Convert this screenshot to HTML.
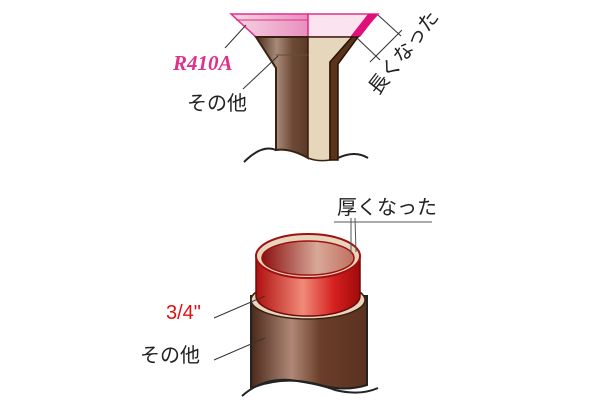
<!DOCTYPE html>
<html><head><meta charset="utf-8"><style>
body{margin:0;background:#fff;width:600px;height:400px;overflow:hidden}
text{font-family:"Liberation Sans","Noto Sans CJK JP",sans-serif}
</style></head><body>
<svg width="600" height="400" viewBox="0 0 600 400" xmlns="http://www.w3.org/2000/svg">
<defs>
<linearGradient id="br" x1="0" x2="1"><stop offset="0" stop-color="#4a2c1c"/><stop offset="0.4" stop-color="#a88a78"/><stop offset="0.7" stop-color="#6e4a36"/><stop offset="1" stop-color="#5a3a28"/></linearGradient>
<linearGradient id="pk" x1="0" x2="1"><stop offset="0" stop-color="#f6d6e6"/><stop offset="1" stop-color="#e890bd"/></linearGradient>
<linearGradient id="red" x1="0" x2="1"><stop offset="0" stop-color="#b01010"/><stop offset="0.45" stop-color="#f08a78"/><stop offset="0.75" stop-color="#d62020"/><stop offset="1" stop-color="#a00a0a"/></linearGradient>
<linearGradient id="inr" x1="0" x2="1"><stop offset="0" stop-color="#8a1010"/><stop offset="0.6" stop-color="#d8a898"/><stop offset="1" stop-color="#c07060"/></linearGradient>
<linearGradient id="ob" x1="0" x2="1"><stop offset="0" stop-color="#4a2818"/><stop offset="0.35" stop-color="#b08878"/><stop offset="0.6" stop-color="#6a3e28"/><stop offset="1" stop-color="#5a3220"/></linearGradient>
</defs>
<!-- top figure -->
<polygon points="231,14 308,14 308,37 256,37" fill="url(#pk)" stroke="#e0308a" stroke-width="1.5"/>
<polygon points="308,14 378,14 357,37 308,37" fill="#fbe4ef" stroke="#e0308a" stroke-width="1.5"/>
<polygon points="368,14 378,14 360,37 350,37" fill="#e0107a"/>
<line x1="236" y1="20" x2="308" y2="20" stroke="#e0308a" stroke-width="1"/>
<path d="M256,37 L308,37 L308,158 Q290,148 276,150 L276,68 Z" fill="url(#br)" stroke="#3a2010" stroke-width="2"/>
<path d="M308,37 L352,37 L330,62 L330,160 Q318,162 308,158 Z" fill="#e6d6bc" stroke="#3a2010" stroke-width="1.5"/>
<path d="M352,37 L358,37 L338,64 L338,160 L330,160 L330,62 Z" fill="#5a3418" stroke="#2a1408" stroke-width="1.5"/>
<path d="M244,162 Q262,144 276,150" fill="none" stroke="#222" stroke-width="2"/>
<path d="M338,158 Q355,150 368,158" fill="none" stroke="#222" stroke-width="2"/>
<line x1="276" y1="55" x2="308" y2="55" stroke="#6a4a38" stroke-width="1"/>
<line x1="378" y1="15" x2="401" y2="36" stroke="#333" stroke-width="1"/>
<line x1="357" y1="38" x2="380" y2="60" stroke="#333" stroke-width="1"/>
<line x1="402" y1="30" x2="370" y2="62" stroke="#333" stroke-width="1"/>
<text x="0" y="0" font-size="20" fill="#222" transform="translate(378,96) rotate(-52)">長くなった</text>
<text x="173" y="70" font-size="21" font-weight="bold" font-style="italic" fill="#e0308a" style="font-family:'Liberation Serif',serif">R410A</text>
<line x1="225" y1="48" x2="246" y2="25" stroke="#333" stroke-width="1"/>
<text x="187" y="110" font-size="20" fill="#222">その他</text>
<line x1="243" y1="89" x2="278" y2="56" stroke="#333" stroke-width="1"/>
<!-- bottom figure -->
<path d="M251,296 L251,388 Q285,375 320,385 Q345,392 367,385 L367,296 Z" fill="url(#ob)" stroke="#222" stroke-width="2"/>
<path d="M242,396 Q262,378 290,380 Q320,384 335,390 Q360,396 378,388" fill="none" stroke="#222" stroke-width="2"/>
<ellipse cx="308" cy="300" rx="57" ry="19" fill="#e6d6bc" stroke="#3a2010" stroke-width="1.5"/>
<path d="M256,256 L256,296 A52,20 0 0 0 360,296 L360,256 Z" fill="url(#red)" stroke="#6a0a0a" stroke-width="1.5"/>
<ellipse cx="308" cy="256" rx="52" ry="22" fill="#e6d6bc" stroke="#a01010" stroke-width="2"/>
<ellipse cx="308" cy="258" rx="46" ry="17" fill="url(#inr)" stroke="#a01010" stroke-width="1.5"/>
<line x1="334" y1="222" x2="432" y2="222" stroke="#555" stroke-width="1"/>
<line x1="351" y1="218" x2="351" y2="254" stroke="#555" stroke-width="1"/>
<line x1="355" y1="218" x2="356" y2="252" stroke="#555" stroke-width="1"/>
<text x="337" y="214" font-size="20" fill="#222">厚くなった</text>
<text x="166" y="319" font-size="20" fill="#e01010">3/4"</text>
<line x1="214" y1="318" x2="265" y2="296" stroke="#333" stroke-width="1"/>
<text x="140" y="362" font-size="20" fill="#222">その他</text>
<line x1="214" y1="360" x2="265" y2="338" stroke="#333" stroke-width="1"/>
</svg>
</body></html>
